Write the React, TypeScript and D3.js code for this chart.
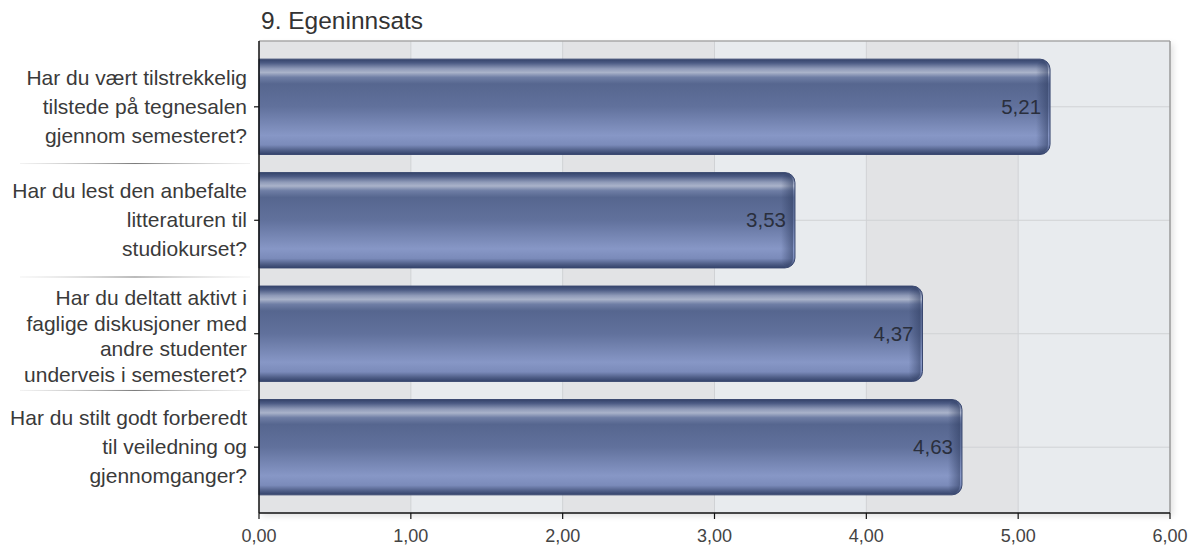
import React from "react";
import * as d3 from "d3";

const title = "9. Egeninnsats";
const categories = [
  ["Har du vært tilstrekkelig", "tilstede på tegnesalen", "gjennom semesteret?"],
  ["Har du lest den anbefalte", "litteraturen til", "studiokurset?"],
  ["Har du deltatt aktivt i", "faglige diskusjoner med", "andre studenter", "underveis i semesteret?"],
  ["Har du stilt godt forberedt", "til veiledning og", "gjennomganger?"],
];
const values = [5.21, 3.53, 4.37, 4.63];
const xTicks = [0, 1, 2, 3, 4, 5, 6];

const W = 1197, H = 548;
const left = 259, right = 1170, top = 41, bottom = 513;
const fmt = (v: number) => v.toFixed(2).replace(".", ",");

export default function App() {
  const x = d3.scaleLinear().domain([0, 6]).range([left, right]);
  const ids = categories.map((_, i) => String(i));
  const y = d3.scaleBand().domain(ids).range([top, bottom]).padding(0.16);
  const bw = y.bandwidth();
  const font = "'Liberation Sans', Arial, sans-serif";

  const barPath = (v: number, i: number) => {
    const y0 = y(String(i))!;
    const x0 = x(0), x1 = x(v);
    const r = 10;
    const p = d3.path();
    p.moveTo(x0, y0);
    p.lineTo(x1 - r, y0);
    p.arcTo(x1, y0, x1, y0 + r, r);
    p.lineTo(x1, y0 + bw - r);
    p.arcTo(x1, y0 + bw, x1 - r, y0 + bw, r);
    p.lineTo(x0, y0 + bw);
    p.closePath();
    return p.toString();
  };

  return (
    <svg width={W} height={H} style={{ position: "absolute", left: 0, top: 0, background: "#fff" }}>
      <defs>
        <linearGradient id="barG" x1="0" y1="0" x2="0" y2="1">
          <stop offset="0" stopColor="#34436a" />
          <stop offset="0.04" stopColor="#4c5b84" />
          <stop offset="0.1" stopColor="#8f9ab8" />
          <stop offset="0.14" stopColor="#aab3ca" />
          <stop offset="0.19" stopColor="#6f7ea5" />
          <stop offset="0.26" stopColor="#56668f" />
          <stop offset="0.5" stopColor="#61719c" />
          <stop offset="0.8" stopColor="#8797c6" />
          <stop offset="0.9" stopColor="#7b8bba" />
          <stop offset="0.96" stopColor="#4e5d86" />
          <stop offset="1" stopColor="#33426a" />
        </linearGradient>
        <linearGradient id="endG" x1="0" y1="0" x2="1" y2="0">
          <stop offset="0" stopColor="#2e3c60" stopOpacity="0" />
          <stop offset="1" stopColor="#2e3c60" stopOpacity="0.55" />
        </linearGradient>
        <linearGradient id="sepG" gradientUnits="userSpaceOnUse" x1="20" y1="0" x2="250" y2="0">
          <stop offset="0" stopColor="#ddd" stopOpacity="0.4" />
          <stop offset="0.5" stopColor="#777" stopOpacity="1" />
          <stop offset="1" stopColor="#ddd" stopOpacity="0.4" />
        </linearGradient>
        <filter id="shadow" x="-5%" y="-5%" width="110%" height="110%">
          <feDropShadow dx="3" dy="3" stdDeviation="3" floodColor="#000" floodOpacity="0.12" />
        </filter>
      </defs>

      <text x={261} y={29} fontFamily={font} fontSize={24.5} fill="#333">{title}</text>

      {/* plot background */}
      <rect x={left} y={top} width={right - left} height={bottom - top} fill="#e8ebee" filter="url(#shadow)" />
      {xTicks.slice(0, -1).map((t, i) => (
        <rect key={"bg" + t} x={x(t)} y={top} width={x(t + 1) - x(t)} height={bottom - top}
          fill={i % 2 === 0 ? "#e2e3e5" : "#e8ebee"} />
      ))}
      {xTicks.slice(1, -1).map((t) => (
        <line key={"gx" + t} x1={x(t)} x2={x(t)} y1={top} y2={bottom} stroke="#d0d2d5" strokeWidth={1} />
      ))}
      {ids.map((id) => (
        <line key={"gy" + id} x1={left} x2={right} y1={y(id)! + bw / 2} y2={y(id)! + bw / 2} stroke="#d0d2d5" strokeWidth={1} />
      ))}
      <line x1={left} x2={right} y1={top} y2={top} stroke="#a8a8a8" strokeWidth={1.5} />
      <line x1={right} x2={right} y1={top} y2={bottom} stroke="#9a9a9a" strokeWidth={1.5} />

      {/* bars */}
      {values.map((v, i) => (
        <g key={"bar" + i}>
          <path d={barPath(v, i)} fill="url(#barG)" stroke="#3a4870" strokeWidth={1} />
          <rect x={x(v) - 14} y={y(String(i))! + 2} width={12} height={bw - 4} fill="url(#endG)" rx={8} />
          <text x={x(v) - 9} y={y(String(i))! + bw / 2 + 7} textAnchor="end" fontFamily={font} fontSize={20.5} fill="#2a2f3d">
            {fmt(v)}
          </text>
        </g>
      ))}

      {/* axes */}
      <line x1={left} x2={left} y1={top} y2={bottom} stroke="#111" strokeWidth={1.5} />
      <line x1={left} x2={right} y1={bottom} y2={bottom} stroke="#111" strokeWidth={1.5} />
      {xTicks.map((t) => (
        <g key={"xt" + t}>
          <line x1={x(t)} x2={x(t)} y1={bottom} y2={bottom + 6} stroke="#111" strokeWidth={1.2} />
          <text x={x(t)} y={bottom + 29} textAnchor="middle" fontFamily={font} fontSize={18} fill="#444">{fmt(t)}</text>
        </g>
      ))}
      {ids.map((id) => (
        <line key={"yt" + id} x1={left - 5} x2={left} y1={y(id)! + bw / 2} y2={y(id)! + bw / 2} stroke="#111" strokeWidth={1.2} />
      ))}

      {/* category labels */}
      {categories.map((lines, i) => {
        const cy = y(String(i))! + bw / 2;
        const four = lines.length > 3;
        const lh = four ? 25.5 : 29;
        const start = cy - ((lines.length - 1) * lh) / 2 + (four ? 3 : 0);
        return (
          <text key={"lab" + i} textAnchor="end" fontFamily={font} fontSize={21} fill="#3a3a3a">
            {lines.map((l, j) => (
              <tspan key={j} x={247} y={start + j * lh + 7}>{l}</tspan>
            ))}
          </text>
        );
      })}
      {ids.slice(1).map((id) => {
        const yy = y(id)! - (y.step() - bw) / 2;
        return <line key={"sep" + id} x1={20} x2={250} y1={yy} y2={yy} stroke="url(#sepG)" strokeWidth={1} />;
      })}
    </svg>
  );
}
